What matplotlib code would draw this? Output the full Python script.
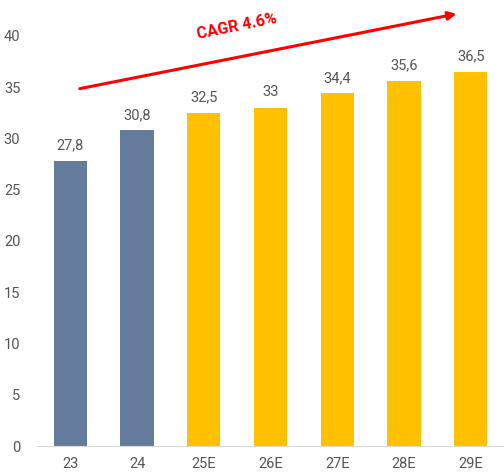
import matplotlib.pyplot as plt

# data
years = ["23", "24", "25E", "26E", "27E", "28E", "29E"]
values = [27.8, 30.8, 32.5, 33, 34.4, 35.6, 36.5]
labels = ["27,8", "30,8", "32,5", "33", "34,4", "35,6", "36,5"]
colors = ["#647b9b", "#647b9b", "#ffc000", "#ffc000", "#ffc000", "#ffc000", "#ffc000"]

plt.rcParams['font.family'] = ['Roboto', 'DejaVu Sans']

fig = plt.figure(figsize=(5.04, 4.73), dpi=100)
ax = fig.add_axes([37 / 504, 27 / 473, 1 - 37 / 504, 446 / 473])

x = range(len(years))
ax.bar(x, values, width=0.5, color=colors)

for i, v in enumerate(values):
    ax.text(i, v + 0.8, labels[i], ha='center', va='bottom', fontsize=10.5, color='#555555')

ax.set_xlim(-0.5, 6.5)
ax.set_ylim(0, 43.5)
ax.set_xticks(list(x))
ax.set_xticklabels(years)
ax.set_yticks(range(0, 45, 5))
ax.tick_params(length=0, labelsize=10.5, colors='#555555')
ax.tick_params(axis='y', pad=12)
ax.tick_params(axis='x', pad=8)

for s in ['top', 'right', 'left']:
    ax.spines[s].set_visible(False)
ax.spines['bottom'].set_color('#d9d9d9')

# CAGR arrow
ax.annotate('', xy=(5.83, 42.2), xytext=(0.1, 34.8),
            arrowprops=dict(arrowstyle='-|>', color='red', lw=2.2, mutation_scale=12))
ax.text(2.5, 40.9, 'CAGR 4.6%', color='red', fontsize=11.5, fontweight='bold',
        rotation=11.5, ha='center', va='center', rotation_mode='anchor')

fig.savefig('out.png', dpi=100)
